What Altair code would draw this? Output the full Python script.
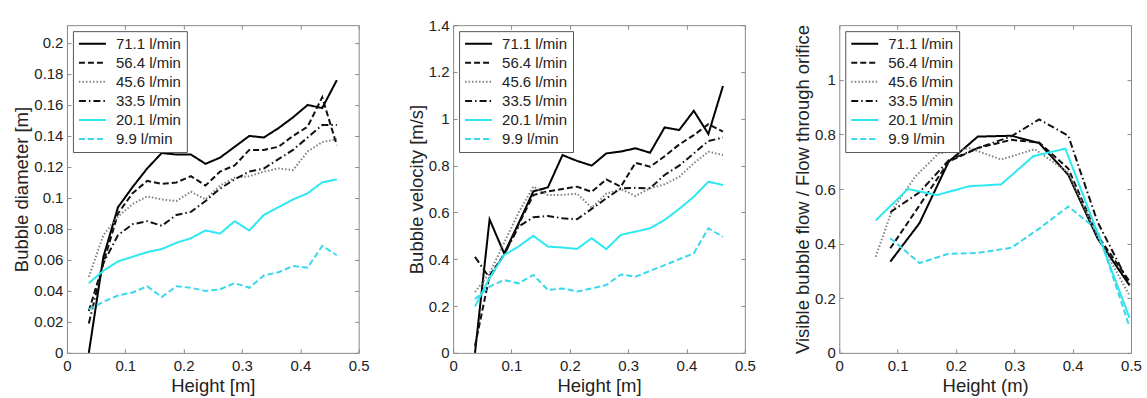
import altair as alt
import pandas as pd

# ---------------- data ----------------
series = ["71.1 l/min", "56.4 l/min", "45.6 l/min", "33.5 l/min", "20.1 l/min", "9.9 l/min"]
colors = ["#000000", "#111111", "#808080", "#111111", "#2ee8f0", "#3ad8ec"]
dashes = [[1, 0], [6, 3], [1.5, 2], [7, 3, 1.5, 3], [1, 0], [6, 3]]
widths = [2.0, 2.0, 1.2, 1.8, 2.0, 2.6]

x_ticks = [0, 0.1, 0.2, 0.3, 0.4, 0.5]
y1_ticks = [0, 0.02, 0.04, 0.06, 0.08, 0.1, 0.12, 0.14, 0.16, 0.18, 0.2]
y2_ticks = [0, 0.2, 0.4, 0.6, 0.8, 1.0, 1.2, 1.4]
y3_ticks = [0, 0.2, 0.4, 0.6, 0.8, 1.0]

# Panel 1 & 2 heights [m]
h12 = [0.0375, 0.0625, 0.0875, 0.1125, 0.1375, 0.1625, 0.1875, 0.2125, 0.2375,
       0.2625, 0.2875, 0.3125, 0.3375, 0.3625, 0.3875, 0.4125, 0.4375, 0.4625]

# Panel 1: bubble diameter [m]
dia_711 = [0.000, 0.062, 0.094, 0.107, 0.119, 0.129, 0.128, 0.128, 0.122, 0.126, 0.133, 0.140, 0.139, 0.145, 0.152, 0.160, 0.158, 0.176]
dia_564 = [0.027, 0.058, 0.090, 0.103, 0.111, 0.109, 0.110, 0.114, 0.108, 0.117, 0.121, 0.131, 0.131, 0.133, 0.140, 0.146, 0.165, 0.134]
dia_456 = [0.049, 0.076, 0.088, 0.096, 0.101, 0.099, 0.098, 0.104, 0.099, 0.108, 0.113, 0.114, 0.117, 0.119, 0.118, 0.130, 0.136, 0.138]
dia_335 = [0.019, 0.058, 0.076, 0.083, 0.085, 0.082, 0.089, 0.091, 0.098, 0.106, 0.112, 0.117, 0.119, 0.125, 0.131, 0.139, 0.147, 0.147]
dia_201 = [0.045, 0.053, 0.059, 0.062, 0.065, 0.067, 0.071, 0.074, 0.079, 0.077, 0.085, 0.079, 0.089, 0.094, 0.099, 0.103, 0.110, 0.112]
dia_99 = [0.028, 0.033, 0.037, 0.039, 0.043, 0.036, 0.043, 0.042, 0.040, 0.041, 0.045, 0.042, 0.050, 0.052, 0.056, 0.055, 0.069, 0.063]

# Panel 2: bubble velocity [m/s]
vel_711 = [0.00, 0.57, 0.425, 0.555, 0.69, 0.707, 0.845, 0.82, 0.80, 0.852, 0.86, 0.874, 0.855, 0.963, 0.952, 1.034, 0.935, 1.14]
vel_564 = [0.03, 0.33, 0.42, 0.55, 0.674, 0.69, 0.70, 0.71, 0.688, 0.741, 0.71, 0.812, 0.795, 0.84, 0.89, 0.93, 0.977, 0.945]
vel_456 = [0.26, 0.34, 0.47, 0.60, 0.71, 0.674, 0.675, 0.68, 0.62, 0.68, 0.70, 0.67, 0.703, 0.72, 0.752, 0.81, 0.859, 0.845]
vel_335 = [0.41, 0.32, 0.42, 0.54, 0.579, 0.585, 0.575, 0.571, 0.615, 0.66, 0.703, 0.705, 0.703, 0.76, 0.80, 0.852, 0.905, 0.92]
vel_201 = [0.198, 0.32, 0.418, 0.455, 0.50, 0.454, 0.45, 0.444, 0.49, 0.443, 0.504, 0.518, 0.532, 0.568, 0.615, 0.667, 0.731, 0.717]
vel_99 = [0.23, 0.283, 0.311, 0.297, 0.333, 0.269, 0.275, 0.262, 0.275, 0.29, 0.335, 0.325, 0.35, 0.375, 0.40, 0.425, 0.532, 0.496]

# Panel 3: visible bubble flow / flow through orifice
h3_711 = [0.0875, 0.1375, 0.1875, 0.2375, 0.2950, 0.3425, 0.3925, 0.4425, 0.4975]
fr_711 = [0.334, 0.475, 0.700, 0.792, 0.795, 0.768, 0.652, 0.420, 0.247]
h3_564 = [0.0875, 0.1375, 0.1875, 0.2375, 0.2950, 0.3425, 0.3925, 0.4425, 0.4975]
fr_564 = [0.383, 0.540, 0.700, 0.750, 0.780, 0.770, 0.675, 0.430, 0.262]
h3_456 = [0.0625, 0.0900, 0.1300, 0.1700, 0.2225, 0.2775, 0.3350, 0.3925, 0.4450, 0.4975]
fr_456 = [0.352, 0.520, 0.645, 0.730, 0.750, 0.708, 0.746, 0.660, 0.415, 0.210]
h3_335 = [0.0875, 0.1375, 0.1875, 0.2375, 0.2950, 0.3425, 0.3925, 0.4425, 0.4975]
fr_335 = [0.515, 0.588, 0.705, 0.750, 0.793, 0.855, 0.795, 0.480, 0.250]
h3_201 = [0.0625, 0.1175, 0.1675, 0.2225, 0.2775, 0.3325, 0.3875, 0.4425, 0.4975]
fr_201 = [0.485, 0.600, 0.578, 0.610, 0.617, 0.720, 0.748, 0.440, 0.128]
h3_99 = [0.0875, 0.1375, 0.1875, 0.2375, 0.2950, 0.3425, 0.3925, 0.4425, 0.4975]
fr_99 = [0.420, 0.329, 0.363, 0.366, 0.385, 0.455, 0.536, 0.450, 0.095]


def long_df(pairs):
    frames = []
    for name, (xs, ys) in zip(series, pairs):
        frames.append(pd.DataFrame({"h": xs, "v": ys, "s": name}))
    return pd.concat(frames, ignore_index=True)


df1 = long_df([(h12, dia_711), (h12, dia_564), (h12, dia_456), (h12, dia_335), (h12, dia_201), (h12, dia_99)])
df2 = long_df([(h12, vel_711), (h12, vel_564), (h12, vel_456), (h12, vel_335), (h12, vel_201), (h12, vel_99)])
df3 = long_df([(h3_711, fr_711), (h3_564, fr_564), (h3_456, fr_456),
               (h3_335, fr_335), (h3_201, fr_201), (h3_99, fr_99)])

FONT = "Liberation Sans"
TXT = "#222222"
FRAME = "#8a8a8a"

legend = alt.Legend(
    title=None, orient="top-left", offset=6, symbolType="stroke", symbolSize=729,
    labelFontSize=15, labelFont=FONT, labelColor=TXT, labelOffset=9, rowPadding=3.1,
    clipHeight=15, padding=5, strokeColor="#555555", fillColor="white", labelLimit=300,
)


def panel(df, ymax, yticks, ytitle, xtitle):
    xs = alt.Scale(domain=[0, 0.5], nice=False, zero=False)
    ys = alt.Scale(domain=[0, ymax], nice=False, zero=False)
    common = dict(offset=-4, tickSize=4, domain=False, grid=False, tickColor=FRAME,
                  labelFlush=False, labelOverlap=False,
                  labelFont=FONT, labelFontSize=15, labelColor=TXT,
                  titleFont=FONT, titleFontSize=18.5, titleFontWeight="normal", titleColor=TXT)
    ax_b = alt.Axis(values=x_ticks, format="~g", title=xtitle, orient="bottom",
                    labelPadding=6, titlePadding=3, **common)
    ax_l = alt.Axis(values=yticks, format="~g", title=ytitle, orient="left",
                    labelPadding=4, titlePadding=2, **common)
    ax_t = alt.Axis(values=x_ticks, orient="top", labels=False, title=None, **common)
    ax_r = alt.Axis(values=yticks, orient="right", labels=False, title=None, **common)
    lines = alt.Chart(df).mark_line().encode(
        x=alt.X("h:Q", scale=xs, axis=ax_b),
        y=alt.Y("v:Q", scale=ys, axis=ax_l),
        color=alt.Color("s:N", scale=alt.Scale(domain=series, range=colors), legend=legend),
        strokeDash=alt.StrokeDash("s:N", scale=alt.Scale(domain=series, range=dashes), legend=legend),
        strokeWidth=alt.StrokeWidth("s:N", scale=alt.Scale(domain=series, range=widths), legend=legend),
    )
    mirror = alt.Chart(df).mark_point(opacity=0).encode(
        x=alt.X("h:Q", scale=xs, axis=ax_t),
        y=alt.Y("v:Q", scale=ys, axis=ax_r),
    )
    return alt.layer(lines, mirror).resolve_axis(x="independent", y="independent").properties(
        width=292, height=328)


p1 = panel(df1, 0.2115, y1_ticks, "Bubble diameter [m]", "Height [m]")
p2 = panel(df2, 1.4, y2_ticks, "Bubble velocity [m/s]", "Height [m]")
p3 = panel(df3, 1.2, y3_ticks, "Visible bubble flow / Flow through orifice", "Height (m)")

chart = alt.hconcat(p1, p2, p3, spacing=94.5, bounds="flush").resolve_scale(
    x="independent", y="independent", color="independent",
    strokeDash="independent", strokeWidth="independent",
).properties(
    padding={"left": 12, "top": 17, "right": 5, "bottom": 0},
    background="white",
).configure_view(
    stroke=FRAME, strokeWidth=1,
)

chart.save("out.html", embed_options={"renderer": "svg", "actions": False})
